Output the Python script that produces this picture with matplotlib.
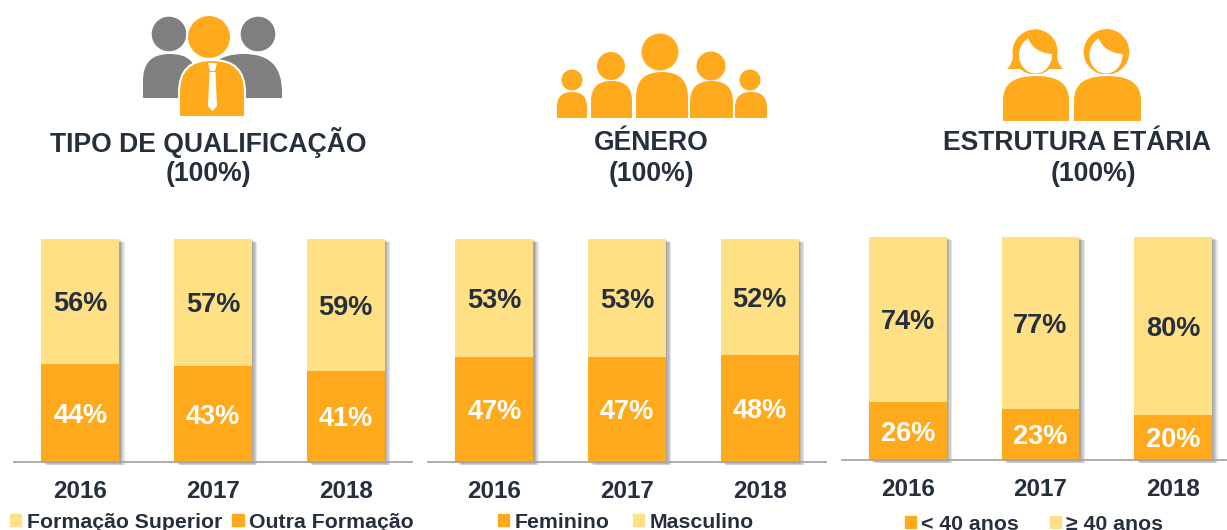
import matplotlib
matplotlib.use('Agg')
import matplotlib.pyplot as plt
import matplotlib.patheffects as pe
from matplotlib.patches import Circle, Ellipse, Patch, PathPatch, Polygon
from matplotlib.path import Path

W, H = 1227, 530
ORANGE = '#FFAA1D'
LIGHT = '#FFE084'
GRAY = '#7F7F7F'
DARK = '#252F3D'

plt.rcParams['font.family'] = ['Liberation Sans', 'DejaVu Sans']
plt.rcParams['font.weight'] = 'bold'

years = ['2016', '2017', '2018']

titles = ['TIPO DE QUALIFICAÇÃO', 'GÉNERO', 'ESTRUTURA ETÁRIA']
subtitle = '(100%)'

qual_outra = [44, 43, 41]
qual_superior = [56, 57, 59]
genero_fem = [47, 47, 48]
genero_masc = [53, 53, 52]
idade_menos40 = [26, 23, 20]
idade_mais40 = [74, 77, 80]

legend_qual = ['Formação Superior', 'Outra Formação']
legend_genero = ['Feminino', 'Masculino']
legend_idade = ['< 40 anos', '≥ 40 anos']

fig = plt.figure(figsize=(W / 100, H / 100), dpi=100, facecolor='white')


def px_axes(x0, x1, ytop, ybottom):
    return fig.add_axes([x0 / W, 1 - ybottom / H, (x1 - x0) / W, (ybottom - ytop) / H])


shadow = [pe.SimplePatchShadow(offset=(k, -k * 0.6), shadow_rgbFace='k', alpha=0.1)
          for k in (1, 2, 3, 4)] + [pe.Normal()]


def stacked(ax, low, high):
    ax.bar(range(3), high, 0.586, bottom=low, color=LIGHT, zorder=2,
           path_effects=shadow, clip_on=False)
    ax.bar(range(3), low, 0.586, color=ORANGE, zorder=3,
           path_effects=shadow, clip_on=False)
    for i in range(3):
        ax.annotate(str(low[i]) + '%', (i, low[i] / 2), xytext=(0, -2), textcoords='offset points',
                    color='white', fontsize=19.5, ha='center', va='center', zorder=5)
        ax.annotate(str(high[i]) + '%', (i, low[i] + high[i] / 2), xytext=(0, -2),
                    textcoords='offset points', color=DARK, fontsize=19.5,
                    ha='center', va='center', zorder=5)
    ax.set_xlim(-0.5, 2.5)
    ax.set_ylim(0, 100)
    ax.set_yticks([])
    ax.set_xticks(range(3))
    ax.set_xticklabels(years, fontsize=17.5, color=DARK)
    ax.tick_params(axis='x', length=0, pad=13)
    for s in ['top', 'left', 'right']:
        ax.spines[s].set_visible(False)
    ax.spines['bottom'].set_color('#A6A6A6')
    ax.spines['bottom'].set_linewidth(1.3)
    ax.spines['bottom'].set_zorder(4)
    ax.patch.set_alpha(0)


def legend(ax, labels, colors, cx, cy, gap):
    handles = [Patch(color=c, label=l) for c, l in zip(colors, labels)]
    ax.legend(handles=handles, loc='center', ncol=2, frameon=False, fontsize=15.3,
              bbox_to_anchor=(cx / W, 1 - cy / H), bbox_transform=fig.transFigure,
              handlelength=0.52, handleheight=0.52, handletextpad=0.26,
              columnspacing=gap, labelcolor=DARK, borderpad=0, borderaxespad=0)


ax1 = px_axes(14, 412, 239, 462)
stacked(ax1, qual_outra, qual_superior)
legend(ax1, legend_qual, [LIGHT, ORANGE], 212, 522, 0.48)

ax2 = px_axes(428, 826, 239, 462)
stacked(ax2, genero_fem, genero_masc)
legend(ax2, legend_genero, [ORANGE, LIGHT], 626, 522, 1.1)

ax3 = px_axes(841.5, 1239.5, 237, 460)
stacked(ax3, idade_menos40, idade_mais40)
legend(ax3, legend_idade, [ORANGE, LIGHT], 1034, 524, 1.43)

# icons and titles, in pixel coordinates
top = fig.add_axes([0, 0, 1, 1], zorder=10)
top.set_xlim(0, W)
top.set_ylim(H, 0)
top.axis('off')

for x, x2, t in zip([208, 651, 1077], [208, 651, 1093], titles):
    top.text(x, 143, t, ha='center', va='center', fontsize=19.1, color=DARK)
    top.text(x2, 174, subtitle, ha='center', va='center', fontsize=19.1, color=DARK)


def body(x0, x1, ytop, ybottom, color, edge=None, z=1, dome=1.0):
    r = (x1 - x0) / 2
    k = 0.68
    cx = (x0 + x1) / 2
    ys = ytop + r * dome
    verts = [(x0, ybottom), (x0, ys),
             (x0, ys - k * (ys - ytop)), (cx - k * r, ytop), (cx, ytop),
             (cx + k * r, ytop), (x1, ys - k * (ys - ytop)), (x1, ys),
             (x1, ybottom), (x0, ybottom)]
    codes = [Path.MOVETO, Path.LINETO, Path.CURVE4, Path.CURVE4, Path.CURVE4,
             Path.CURVE4, Path.CURVE4, Path.CURVE4, Path.LINETO, Path.CLOSEPOLY]
    top.add_patch(PathPatch(Path(verts, codes), fc=color, ec=edge or 'none', lw=1.5, zorder=z))


def head(x, y, r, color, edge=None, z=1):
    c = Circle((x, y), r, fc=color, ec=edge or 'none', lw=1.5, zorder=z)
    top.add_patch(c)
    return c


# qualificação
head(169, 34, 17.3, GRAY)
head(258, 34, 17.3, GRAY)
body(143, 197, 54, 98, GRAY)
body(205, 282, 54, 98, GRAY)
head(209, 37, 22, ORANGE, 'white', 2)
body(179, 245, 60, 117, ORANGE, 'white', 2)
top.add_patch(Polygon([(208, 63), (217, 63), (215, 71), (210, 71)], fc='white', zorder=3))
top.add_patch(Polygon([(209.5, 72), (215.5, 72), (217, 106), (212.5, 111), (208, 106)],
                      fc='white', zorder=3))

# género
for hx, hy, r, bx0, bx1, bt in [(572, 80, 10.5, 557, 587, 92), (611, 66, 14, 591, 632, 81),
                                (660, 52, 18.5, 636, 688, 72), (711, 66, 14.5, 690, 733, 81),
                                (750, 80, 10.5, 735, 767, 92)]:
    head(hx, hy, r, ORANGE)
    body(bx0, bx1, bt, 118, ORANGE)


# estrutura etária
def fringe(x, hd):
    verts = [(x - 8, 37), (x - 2, 53), (x + 17, 54), (x + 24, 42), (x + 4, 26), (x - 8, 37)]
    codes = [Path.MOVETO, Path.CURVE3, Path.CURVE3, Path.LINETO, Path.LINETO, Path.CLOSEPOLY]
    p = PathPatch(Path(verts, codes), fc=ORANGE, ec='none', zorder=4)
    top.add_patch(p)
    p.set_clip_path(hd)


hair = [(1007, 69), (1014, 63), (1013, 50), (1057, 50), (1056, 63), (1063, 69), (1007, 69)]
hair_codes = [Path.MOVETO, Path.CURVE3, Path.CURVE3, Path.LINETO, Path.CURVE3, Path.CURVE3,
              Path.CLOSEPOLY]
top.add_patch(PathPatch(Path(hair, hair_codes), fc=ORANGE, ec='none', zorder=1))
head1 = head(1035, 52, 22.5, ORANGE)
head2 = head(1106.5, 52, 22.8, ORANGE)
body(1002, 1070, 75, 122, ORANGE, 'white', 2, 0.75)
body(1073, 1142, 75, 122, ORANGE, 'white', 2, 0.75)
top.add_patch(Ellipse((1035.5, 55), 33, 37, fc='white', zorder=3))
top.add_patch(Ellipse((1106, 55), 33, 37, fc='white', zorder=3))
fringe(1035.5, head1)
fringe(1106, head2)

fig.savefig('out.png', dpi=100)
